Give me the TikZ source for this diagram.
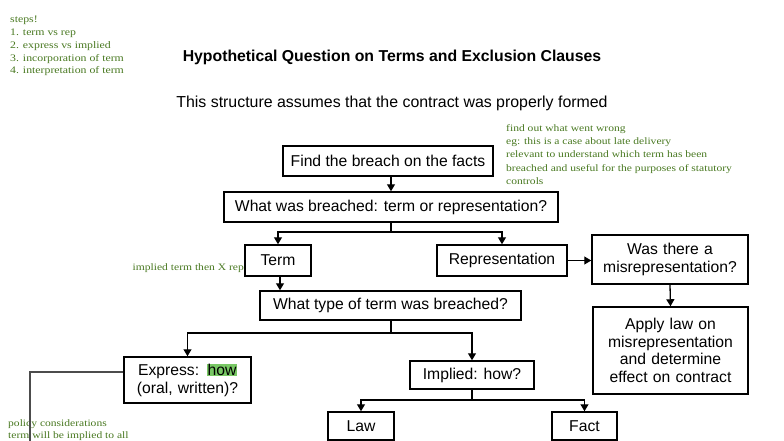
\documentclass[tikz,border=0pt]{standalone}
\usepackage{fontspec}
\setmainfont{Liberation Sans}
\newfontfamily\notefont[FakeStretch=1.18]{Liberation Serif}
\usetikzlibrary{arrows.meta}
\definecolor{notegreen}{RGB}{72,120,32}
\definecolor{hlgreen}{RGB}{120,200,100}
\newcommand{\hlhow}[1]{{\setlength{\fboxsep}{0.5pt}\colorbox{hlgreen}{#1}}}
\tikzset{
  box/.style={draw, line width=1.5pt, align=center, inner sep=0pt, font=\fontsize{15.7}{17.5}\selectfont},
  conn/.style={line width=1.3pt},
  arr/.style={line width=1.3pt, -{Triangle[length=7pt,width=8pt]}},
  note/.style={text=notegreen, font=\notefont\fontsize{9.8}{13.4}\selectfont, align=left, anchor=north west, inner sep=0pt},
}
\begin{document}
\begin{tikzpicture}[x=1pt,y=-1pt]
\useasboundingbox (0,0) rectangle (784,441);
\clip (0,0) rectangle (784,441);

% titles
\node[font=\bfseries\fontsize{15.8}{18}\selectfont] (title) at (392,57) {Hypothetical Question on Terms and Exclusion Clauses};
\node[font=\fontsize{15.9}{18}\selectfont] (sub) at (392,103) {This structure assumes that the contract was properly formed};

% notes
\node[note, font=\notefont\fontsize{10}{12.8}\selectfont] (steps) at (10,16) {steps!\\1. term vs rep\\2. express vs implied\\3. incorporation of term\\4. interpretation of term};
\node[note] (facts note) at (506,124) {find out what went wrong\\eg: this is a case about late delivery\\relevant to understand which term has been\\breached and useful for the purposes of statutory\\controls};
\node[note, anchor=east] (impl note) at (244,268) {implied term then X rep};
\node[note, font=\notefont\fontsize{9.8}{12}\selectfont] (policy) at (8,419) {policy considerations\\term will be implied to all};

% boxes
\node[box, minimum width=210, minimum height=30] (find) at (388,161) {Find the breach on the facts};
\node[box, minimum width=334, minimum height=30] (what) at (391,207) {What was breached: term or representation?};
\node[box, minimum width=66, minimum height=31] (term) at (278,260.5) {Term};
\node[box, minimum width=130, minimum height=31] (rep) at (502,260.5) {Representation};
\node[box, minimum width=156, minimum height=49, text width=150] (mis) at (670,259.5) {Was there a\\misrepresentation?};
\node[box, minimum width=261, minimum height=29] (type) at (390.5,305.5) {What type of term was breached?};
\node[box, minimum width=155, minimum height=87, text width=150] (apply) at (670.5,350.5) {Apply law on\\misrepresentation\\and determine\\effect on contract};
\node[box, minimum width=127, minimum height=46, text width=125] (express) at (187.5,380) {Express: \hlhow{how}\\(oral, written)?};
\node[box, minimum width=124, minimum height=28] (implied) at (472,375) {Implied: how?};
\node[box, minimum width=66, minimum height=28] (law) at (361,426) {Law};
\node[box, minimum width=65, minimum height=28] (fact) at (584.5,426) {Fact};

% connectors
\draw[arr] (find.south -| 391,0) -- (what.north -| 391,0);
\draw[conn] (what.south -| 391,0) -- (391,232);
\draw[arr] (391,232) -| (term.north);
\draw[arr] (391,232) -| (rep.north);
\draw[arr] (rep.east) -- (mis.west |- rep.east);
\draw[arr] (mis.south) -- (apply.north);
\draw[arr] (term.south -| 280,0) -- (type.north -| 280,0);
\draw[conn] (type.south -| 391,0) -- (391,333);
\draw[arr] (391,333) -| (express.north);
\draw[arr] (391,333) -| (implied.north);
\draw[conn] (implied.south) -- (472,400);
\draw[arr] (472,400) -| (law.north);
\draw[arr] (472,400) -| (fact.north);
\coordinate (policyend) at (30,445);
\draw[line width=1.2pt, black!70] (express.west |- 0,372) -| (policyend);
\end{tikzpicture}
\end{document}
